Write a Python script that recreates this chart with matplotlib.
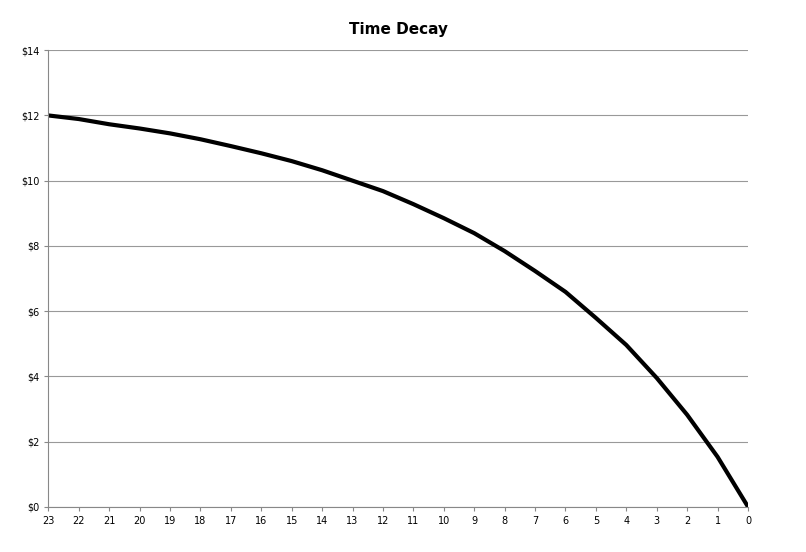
import matplotlib.pyplot as plt
from matplotlib.ticker import FuncFormatter

# days left to expiry and option value
days = list(range(23, -1, -1))
values = [12.0, 11.89, 11.73, 11.6, 11.45, 11.27, 11.06, 10.84, 10.6, 10.32,
          10.0, 9.68, 9.28, 8.85, 8.39, 7.84, 7.23, 6.59, 5.79, 4.96,
          3.95, 2.82, 1.53, 0.0]

fig = plt.figure(figsize=(8.06, 5.52), dpi=100)
ax = fig.add_axes([0.06, 0.082, 0.868, 0.827])

ax.plot(days, values, color="black", linewidth=3, solid_capstyle="round")

ax.set_xlim(23, 0)
ax.set_xticks(days)
ax.set_ylim(0, 14)
ax.set_yticks(range(0, 15, 2))
ax.yaxis.set_major_formatter(FuncFormatter(lambda v, p: f"${v:.0f}"))
ax.tick_params(labelsize=7, length=3, color="#888888")
ax.grid(axis="y", color="#999999", linewidth=0.8)
ax.set_axisbelow(True)
for s in ("top", "right"):
    ax.spines[s].set_visible(False)
for s in ("left", "bottom"):
    ax.spines[s].set_color("#888888")

ax.set_title("Time Decay", fontsize=11, fontweight="bold", pad=12)

fig.savefig("out.png", dpi=100)
